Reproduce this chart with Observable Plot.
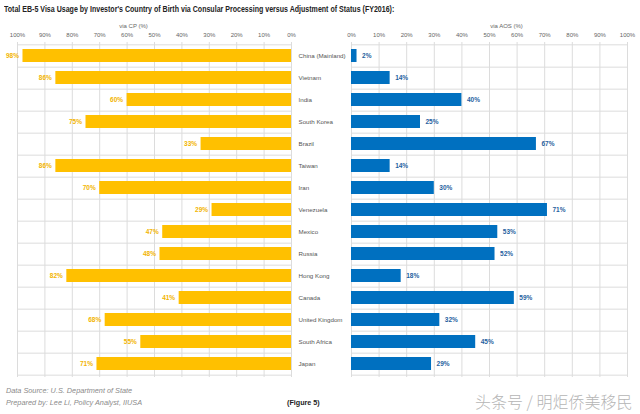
<!DOCTYPE html>
<html>
<head>
<meta charset="utf-8">
<script src="https://cdn.jsdelivr.net/npm/d3@7"></script>
<script src="https://cdn.jsdelivr.net/npm/@observablehq/plot@0.6"></script>
<style>
  html, body { margin: 0; padding: 0; background: #fff; }
  #wrap { position: relative; width: 640px; height: 414px; overflow: hidden; background: #fff; font-family: "Liberation Sans", Arial, sans-serif; }
  .abs { position: absolute; white-space: nowrap; }
  #title { left: 4px; top: 4px; font: bold 8.3px "Liberation Sans", Arial, sans-serif; color: #222; transform: scaleX(0.85); transform-origin: 0 0; }
  .foot { left: 6px; font: italic 7.3px "Liberation Sans", Arial, sans-serif; color: #8a8a8a; }
  #fig { left: 287px; top: 398px; font: bold 7.2px "Liberation Sans", Arial, sans-serif; color: #222; }
  #wm { left: 475px; top: 389px; font: 16px "Noto Sans CJK SC", sans-serif; color: #b5b5b5; font-weight: 300; }
</style>
</head>
<body>
<div id="wrap">
  <div id="title" class="abs">Total EB-5 Visa Usage by Investor's Country of Birth via Consular Processing versus Adjustment of Status (FY2016):</div>
  <div id="left" class="abs" style="left:0;top:0"></div>
  <div id="right" class="abs" style="left:291px;top:0"></div>
  <div class="abs foot" style="top:386px">Data Source: U.S. Department of State</div>
  <div class="abs foot" style="top:398px">Prepared by: Lee Li, Policy Analyst, IIUSA</div>
  <div id="fig" class="abs">(Figure 5)</div>
  <div id="wm" class="abs">头条号 / 明炬侨美移民</div>
</div>
<script>
const countries = ["China (Mainland)", "Vietnam", "India", "South Korea", "Brazil", "Taiwan", "Iran", "Venezuela", "Mexico", "Russia", "Hong Kong", "Canada", "United Kingdom", "South Africa", "Japan"];
const cpValues  = [98, 86, 60, 75, 33, 86, 70, 29, 47, 48, 82, 41, 68, 55, 71];
const aosValues = [2, 14, 40, 25, 67, 14, 30, 71, 53, 52, 18, 59, 32, 45, 29];
const tickValues = [0, 10, 20, 30, 40, 50, 60, 70, 80, 90, 100];
const leftLabel = "via CP (%)";
const rightLabel = "via AOS (%)";

const cpData = countries.map((c, i) => ({country: c, value: cpValues[i]}));
const aosData = countries.map((c, i) => ({country: c, value: aosValues[i]}));

const H = 380, MT = 42, MB = 3;
const step = (H - MT - MB) / countries.length;
const gridColor = "#dcdcdc";
const yellow = "#FFC000";
const blue = "#0070C0";

function yScale() {
  return {domain: countries, paddingInner: 0.43, paddingOuter: 0.215, axis: null};
}

const left = Plot.plot({
  width: 300, height: H,
  marginLeft: 17, marginRight: 9, marginTop: MT, marginBottom: MB,
  style: {fontFamily: "'Liberation Sans', Arial, sans-serif", fontSize: "6px", background: "transparent"},
  x: {domain: [0, 100], reverse: true},
  y: yScale(),
  marks: [
    Plot.gridX(tickValues, {stroke: gridColor, strokeOpacity: 1}),
    Plot.ruleY([countries[0]], {y: d => d, dy: -step / 2, stroke: gridColor, strokeOpacity: 1}),
    Plot.ruleY(countries, {y: d => d, dy: step / 2, stroke: gridColor, strokeOpacity: 1}),
    Plot.axisX(tickValues, {anchor: "top", tickSize: 0, tickPadding: 6, tickFormat: d => d + "%", fill: "#666", label: null}),
    Plot.text([leftLabel], {frameAnchor: "top", dx: -21, dy: -19, fill: "#666", fontSize: 6}),
    Plot.barX(cpData, {x: "value", y: "country", fill: yellow}),
    Plot.text(cpData, {x: "value", y: "country", text: d => d.value + "%", textAnchor: "end", dx: -4, fill: "#F2B400", fontWeight: "bold", fontSize: 6.5})
  ]
});
document.getElementById("left").appendChild(left);

const right = Plot.plot({
  width: 349, height: H,
  marginLeft: 60, marginRight: 13, marginTop: MT, marginBottom: MB,
  style: {fontFamily: "'Liberation Sans', Arial, sans-serif", fontSize: "6px", background: "transparent"},
  x: {domain: [0, 100]},
  y: yScale(),
  marks: [
    Plot.gridX(tickValues, {stroke: gridColor, strokeOpacity: 1}),
    Plot.ruleY([countries[0]], {y: d => d, dy: -step / 2, stroke: gridColor, strokeOpacity: 1}),
    Plot.ruleY(countries, {y: d => d, dy: step / 2, stroke: gridColor, strokeOpacity: 1}),
    Plot.axisX(tickValues, {anchor: "top", tickSize: 0, tickPadding: 6, tickFormat: d => d + "%", fill: "#666", label: null}),
    Plot.text([rightLabel], {frameAnchor: "top", dx: 17, dy: -19, fill: "#666", fontSize: 6}),
    Plot.barX(aosData, {x: "value", y: "country", fill: blue}),
    Plot.text(aosData, {x: "value", y: "country", text: d => d.value + "%", textAnchor: "start", dx: 5, fill: "#1F5FA0", fontWeight: "bold", fontSize: 6.5}),
    Plot.text(countries, {y: d => d, frameAnchor: "left", textAnchor: "start", dx: -53, fill: "#555", fontSize: 6.2})
  ]
});
document.getElementById("right").appendChild(right);
</script>
</body>
</html>
